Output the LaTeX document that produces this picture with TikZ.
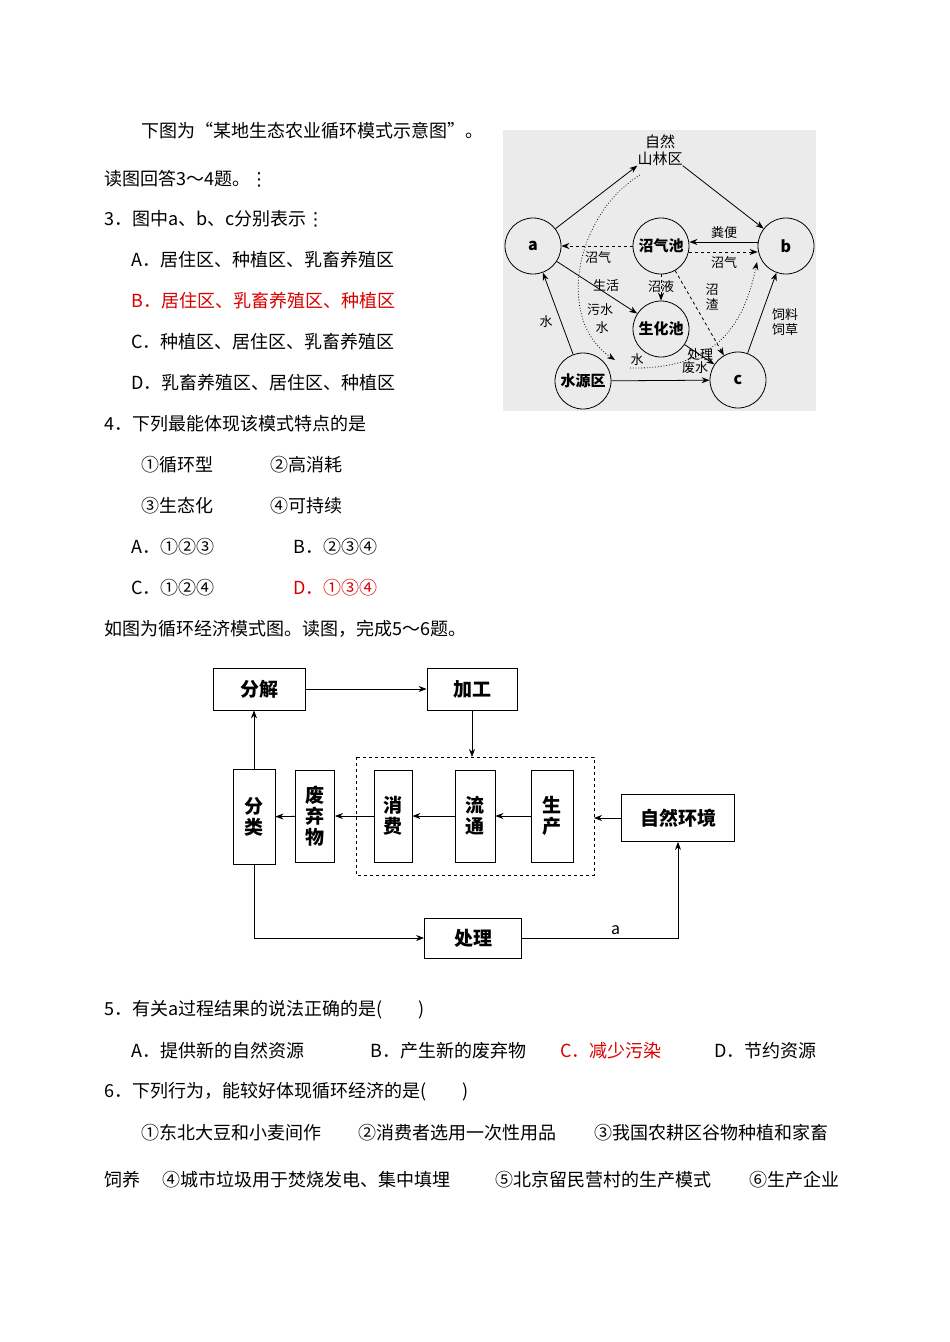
\documentclass[tikz,border=0pt]{standalone}
\usepackage{fontspec}
\setmainfont{Noto Sans CJK SC}
\newfontfamily\djv{DejaVu Sans}
\usetikzlibrary{arrows.meta}
\begin{document}
\begin{tikzpicture}[x=1pt,y=-1pt,
  tx/.style={anchor=west,font=\fontsize{18}{20}\selectfont,inner sep=0},
  red/.style={text=red!85!black},
  cir/.style={circle,draw,thick,minimum size=56pt,inner sep=0,font=\fontsize{16}{18}\selectfont\bfseries},
  lb/.style={font=\fontsize{13}{15}\selectfont,inner sep=0},
  ar/.style={-{Stealth[length=8pt,width=6pt]},thick},
  bx/.style={draw,thick,font=\fontsize{19}{22}\selectfont\bfseries,inner sep=0},
  vb/.style={bx,minimum width=40pt,minimum height=92pt,align=center,font=\fontsize{19}{21}\selectfont\bfseries}]
\useasboundingbox (0,0) rectangle (950,1342);
\fill[white] (0,0) rectangle (950,1342);
% text
\node[tx] (t1) at (141,131) {下图为“某地生态农业循环模式示意图”。};
\node[tx] (t2) at (104,179) {读图回答3～4题。{\djv ⋮}};
\node[tx] (t3) at (104,219) {3．图中a、b、c分别表示{\djv ⋮}};
\node[tx] (t4) at (131,260) {A．居住区、种植区、乳畜养殖区};
\node[tx,red] (t5) at (131,301) {B．居住区、乳畜养殖区、种植区};
\node[tx] (t6) at (131,342) {C．种植区、居住区、乳畜养殖区};
\node[tx] (t7) at (131,383) {D．乳畜养殖区、居住区、种植区};
\node[tx] (t8) at (104,424) {4．下列最能体现该模式特点的是};
\node[tx] (t9) at (141,465) {①循环型};
\node[tx] (t10) at (270,465) {②高消耗};
\node[tx] (t11) at (141,506) {③生态化};
\node[tx] (t12) at (270,506) {④可持续};
\node[tx] (t13) at (131,547) {A．①②③};
\node[tx] (t14) at (293,547) {B．②③④};
\node[tx] (t15) at (131,588) {C．①②④};
\node[tx,red] (t16) at (293,588) {D．①③④};
\node[tx] (t17) at (104,629) {如图为循环经济模式图。读图，完成5～6题。};
\node[tx] (t18) at (104,1010) {5．有关a过程结果的说法正确的是(　　)};
\node[tx] (t19) at (131,1051) {A．提供新的自然资源};
\node[tx] (t20) at (370,1051) {B．产生新的废弃物};
\node[tx,red] (t21) at (560,1051) {C．减少污染};
\node[tx] (t22) at (714,1051) {D．节约资源};
\node[tx] (t23) at (104,1092) {6．下列行为，能较好体现循环经济的是(　　)};
\node[tx] (t24) at (141,1133) {①东北大豆和小麦间作};
\node[tx] (t25) at (358,1133) {②消费者选用一次性用品};
\node[tx] (t26) at (594,1133) {③我国农耕区谷物种植和家畜};
\node[tx] (t27) at (104,1180) {饲养};
\node[tx] (t28) at (162,1180) {④城市垃圾用于焚烧发电、集中填埋};
\node[tx] (t29) at (495,1180) {⑤北京留民营村的生产模式};
\node[tx] (t30) at (749,1180) {⑥生产企业};
% diagram 1
\fill[black!8] (503,130) rectangle (816,411);
\node[lb,font=\fontsize{15}{17}\selectfont,align=center] (sl) at (660,150) {自然\\山林区};
\node[cir] (a) at (533,246) {a};
\node[cir] (b) at (786,246) {b};
\node[cir] (c) at (738,380) {c};
\node[cir,font=\fontsize{15}{17}\selectfont\bfseries] (w) at (583,381) {水源区};
\node[cir,font=\fontsize{15}{17}\selectfont\bfseries] (q) at (661,246) {沼气池};
\node[cir,font=\fontsize{15}{17}\selectfont\bfseries] (s) at (661,329) {生化池};
\draw[ar] (a) -- (sl.south west);
\draw[ar] (sl.south east) -- (b);
\draw[ar,dashed] (q) -- (a);
\draw[ar] (b.west|-0,242) -- (q.east|-0,242);
\draw[ar,dashed] (q.east|-0,252) -- (b.west|-0,252);
\draw[ar,dashed] (q) -- (s);
\draw[ar,dashed] (q) -- (c);
\draw[ar] (a) -- (s);
\draw[ar] (w) -- (a);
\draw[ar] (w) -- (c);
\draw[ar] (c) -- (b);
\draw[ar] (s) -- (c);
\draw[ar,dotted] (640,175) .. controls (575,215) and (555,320) .. (615,360);
\draw[ar,dotted] (630,368) .. controls (720,370) and (745,320) .. (757,262);
\node[lb] (l1) at (724,233) {粪便};
\node[lb] (l2) at (724,263) {沼气};
\node[lb] (l3) at (598,258) {沼气};
\node[lb] (l4) at (606,286) {生活};
\node[lb] (l5) at (600,310) {污水};
\node[lb] (l6) at (602,328) {水};
\node[lb] (l7) at (661,287) {沼液};
\node[lb,align=center] (l8) at (712,297) {沼\\渣};
\node[lb,align=center] (l9) at (785,322) {饲料\\饲草};
\node[lb] (l10) at (546,322) {水};
\node[lb] (l11) at (637,360) {水};
\node[lb] (l12) at (700,355) {处理};
\node[lb] (l13) at (695,368) {废水};
% diagram 2
\node[bx,minimum width=92pt,minimum height=42pt] (fj) at (259,689) {分解};
\node[bx,minimum width=90pt,minimum height=42pt] (jg) at (472,689) {加工};
\draw[thick,dashed] (356,757) rectangle (594,875);
\coordinate (dt) at (472,757);
\coordinate (dr) at (594,818);
\node[vb,minimum width=42pt] (sc) at (552,816) {生\\产};
\node[vb] (lt) at (475,816) {流\\通};
\node[vb,minimum width=38pt] (xf) at (393,816) {消\\费};
\node[vb,minimum width=39pt] (fq) at (315,816) {废\\弃\\物};
\node[vb,minimum width=42pt,minimum height=95pt] (fl) at (254,817) {分\\类};
\node[bx,minimum width=113pt,minimum height=47pt] (zr) at (678,818) {自然环境};
\node[bx,minimum width=97pt,minimum height=40pt] (cl) at (473,938) {处理};
\draw[ar] (fj) -- (jg);
\draw[ar] (jg) -- (dt);
\draw[ar] (sc) -- (lt);
\draw[ar] (lt) -- (xf);
\draw[ar] (xf) -- (fq);
\draw[ar] (fq) -- (fl);
\draw[ar] (zr) -- (dr);
\draw[ar] (fl.north) -- (fl.north|-fj.south);
\draw[ar] (fl.south) |- (cl);
\draw[ar] (cl) -| (zr.south) node[pos=0.3,above,font=\fontsize{16}{18}\selectfont] {a};
\end{tikzpicture}
\end{document}
